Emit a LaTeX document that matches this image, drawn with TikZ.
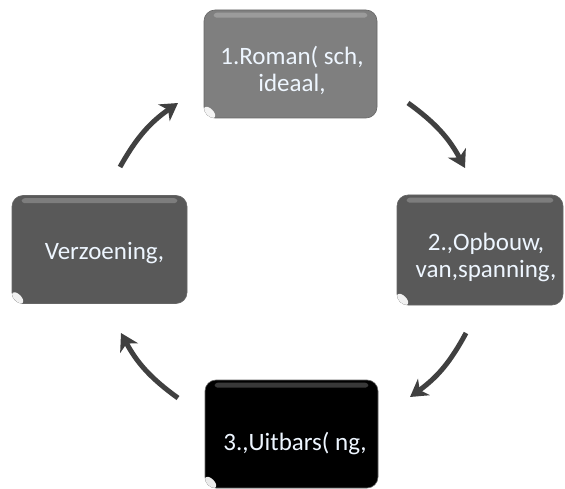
\documentclass[tikz,border=0pt]{standalone}
\usepackage{fontspec}
\setmainfont{Carlito}
\usetikzlibrary{arrows.meta}
\definecolor{boxgray}{HTML}{7F7F7F}
\definecolor{boxdark}{HTML}{595959}
\definecolor{arrowgray}{HTML}{404040}
\definecolor{txt}{HTML}{EEF6FF}
\tikzset{
  box/.style={draw=black!60, line width=0.6pt, rounded corners=11pt, minimum width=173pt, minimum height=108pt, inner sep=0pt},
  lbl/.style={text=txt, font=\fontsize{25}{27}\selectfont, align=center, inner sep=0pt},
  cyc/.style={draw=arrowgray, line width=5pt, -{Stealth[length=17pt,width=20pt,inset=5pt]}, bend left=13}
}
\newcommand{\gloss}[1]{%
  \fill[white, opacity=0.22, rounded corners=3pt] ([xshift=10pt,yshift=-3pt]#1.north west) rectangle ([xshift=-10pt,yshift=-8pt]#1.north east);
  \fill[white, opacity=0.92, shift={([xshift=6pt,yshift=6pt]#1.south west)}, rotate=-45] (0,0) ellipse (7pt and 3.5pt);
}
\begin{document}
\begin{tikzpicture}[x=1pt,y=1pt]
\useasboundingbox (0,0) rectangle (565,488);
% boxes
\node[box, fill=boxgray] (b1) at (290.5,424) {};
\node[box, fill=boxdark, minimum width=166pt, minimum height=110pt] (b2) at (480,238) {};
\node[box, fill=black] (b3) at (291.5,54) {};
\node[box, fill=boxdark, minimum width=175pt] (b4) at (99.5,238.5) {};
\gloss{b1}
\gloss{b2}
\gloss{b3}
\gloss{b4}
% labels
\node[lbl] (t1) at (292,418) {1.Roman( sch,\\ideaal,};
\node[lbl] (t2) at (486,231) {2.,Opbouw,\\van,spanning,};
\node[lbl] (t3) at (295,44) {3.,Uitbars( ng,};
\node[lbl] (t4) at (104.5,235) {Verzoening,};
% arrow end points
\coordinate (a1s) at (120,321);
\coordinate (a1e) at (178,385);
\coordinate (a2s) at (408,385);
\coordinate (a2e) at (465,320);
\coordinate (a3s) at (466,155);
\coordinate (a3e) at (410,91);
\coordinate (a4s) at (178,90);
\coordinate (a4e) at (121,155);
\draw[cyc] (a1s) to (a1e);
\draw[cyc] (a2s) to (a2e);
\draw[cyc] (a3s) to (a3e);
\draw[cyc] (a4s) to (a4e);
\end{tikzpicture}
\end{document}
